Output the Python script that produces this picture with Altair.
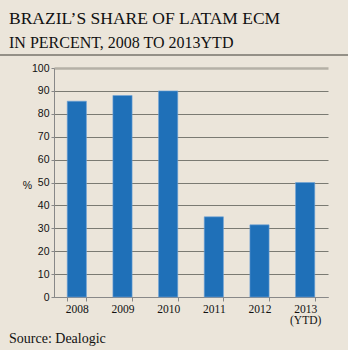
import altair as alt
import pandas as pd

years = ["2008", "2009", "2010", "2011", "2012", "2013 (YTD)"]
shares = [85.5, 88, 90, 35, 31.5, 50]
y_ticks = [0, 10, 20, 30, 40, 50, 60, 70, 80, 90, 100]

title_text = "BRAZIL\u2019S SHARE OF LATAM ECM"
subtitle_text = "IN PERCENT, 2008 TO 2013YTD"
source_text = "Source: Dealogic"

BG = "#ebe5da"
BLUE = "#1f70b8"

df = pd.DataFrame({"year": years, "share": shares})

bars = alt.Chart(df).mark_bar(color=BLUE, stroke="#6fa3d6", strokeWidth=0.6).encode(
    x=alt.X("year:N", sort=years,
            scale=alt.Scale(paddingInner=0.58, paddingOuter=0.29),
            axis=alt.Axis(title=None, labelAngle=0, labelFont="Liberation Serif",
                          labelFontSize=11.5, labelColor="#111", labelPadding=2,
                          labelExpr="split(datum.label, ' ')", labelLineHeight=11,
                          tickBand="extent", tickSize=4, tickColor="#888",
                          domainColor="#888", grid=False)),
    y=alt.Y("share:Q", scale=alt.Scale(domain=[0, 100], nice=False),
            axis=alt.Axis(title="%", titleAngle=0, titleFont="Liberation Sans",
                          titleFontSize=10.5, titleFontWeight="normal", titleColor="#111",
                          titleX=-27, titleY=117, titleAlign="center", titleBaseline="middle",
                          values=y_ticks, labelFont="Liberation Sans", labelFontSize=10.5,
                          labelColor="#111", labelPadding=2, tickSize=3, tickColor="#888",
                          domainColor="#888",
                          gridColor=alt.condition("datum.value == 100", alt.value("#b5b0a6"), alt.value("#7a7a72")),
                          gridWidth=alt.condition("datum.value == 100", alt.value(2.5), alt.value(1))))
)

tdf = pd.DataFrame({"t": [title_text]})
sdf = pd.DataFrame({"t": [subtitle_text]})
srcdf = pd.DataFrame({"t": [source_text]})

title = alt.Chart(tdf).mark_text(align="left", baseline="alphabetic", font="Liberation Serif",
                                  fontSize=17.5, color="#111").encode(
    x=alt.value(-45), y=alt.value(-44), text="t:N")
subtitle = alt.Chart(sdf).mark_text(align="left", baseline="alphabetic", font="Liberation Serif",
                                     fontSize=16, color="#111").encode(
    x=alt.value(-45), y=alt.value(-20), text="t:N")
sep = alt.Chart(tdf).mark_rule(color="#77736b", strokeWidth=1.5).encode(
    x=alt.value(-54), x2=alt.value(294), y=alt.value(-13))
source = alt.Chart(srcdf).mark_text(align="left", baseline="alphabetic", font="Liberation Serif",
                                    fontSize=14, color="#111").encode(
    x=alt.value(-45), y=alt.value(275), text="t:N")

chart = alt.layer(bars, sep, title, subtitle, source).properties(
    width=274, height=229,
    background=BG,
    padding={"left": 54, "top": 68, "right": 20, "bottom": 53},
    autosize=alt.AutoSizeParams(type="none"),
).configure_view(stroke=None)

chart.save("out.html", embed_options={"renderer": "svg", "actions": False})
